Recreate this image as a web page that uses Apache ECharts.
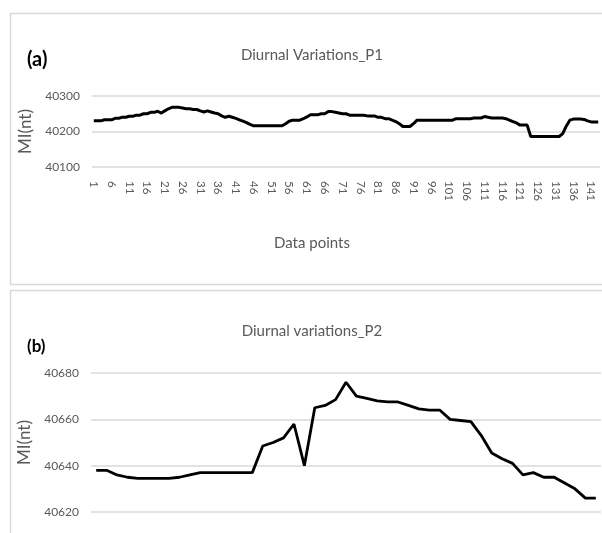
<!DOCTYPE html>
<html>
<head>
<meta charset="utf-8">
<script src="https://cdn.jsdelivr.net/npm/echarts@6/dist/echarts.min.js"></script>
<style>
  html, body { margin: 0; padding: 0; background: #ffffff; }
  #chart { width: 602px; height: 533px; }
</style>
</head>
<body>
<div id="chart"></div>
<script>
// Panel (a): magnetic intensity at site P1, one reading per data point
const p1Values = [
  40230, 40230, 40230, 40233, 40233, 40233, 40237, 40237, 40240, 40240,
  40243, 40243, 40246, 40246, 40250, 40250, 40254, 40254, 40257, 40252,
  40258, 40264, 40268, 40268, 40268, 40266, 40264, 40264, 40262, 40262,
  40258, 40255, 40258, 40255, 40252, 40250, 40244, 40240, 40243, 40240,
  40237, 40233, 40229, 40225, 40220, 40216, 40216, 40216, 40216, 40216,
  40216, 40216, 40216, 40216, 40222, 40229, 40232, 40232, 40232, 40236,
  40241, 40247, 40247, 40247, 40250, 40250, 40256, 40256, 40254, 40252,
  40250, 40250, 40246, 40246, 40246, 40246, 40246, 40244, 40244, 40244,
  40240, 40240, 40236, 40236, 40232, 40228, 40222, 40214, 40214, 40214,
  40222, 40232, 40232, 40232, 40232, 40232, 40232, 40232, 40232, 40232,
  40232, 40232, 40236, 40236, 40236, 40236, 40236, 40238, 40238, 40238,
  40242, 40240, 40238, 40238, 40238, 40238, 40236, 40232, 40228, 40224,
  40218, 40218, 40218, 40186, 40186, 40186, 40186, 40186, 40186, 40186,
  40186, 40186, 40194, 40215, 40232, 40235, 40235, 40235, 40234, 40230,
  40227, 40227, 40227
];
const p1Categories = p1Values.map((_, i) => String(i + 1));
const p1Ticks = [40100, 40200, 40300];

// Panel (b): magnetic intensity at site P2
const p2Values = [
  40638, 40638, 40636, 40635, 40634.5, 40634.5, 40634.5, 40634.5, 40635, 40636,
  40637, 40637, 40637, 40637, 40637, 40637, 40648.5, 40650, 40652, 40658,
  40640, 40665, 40666, 40668.5, 40676, 40670, 40669, 40668, 40667.5, 40667.5,
  40666, 40664.5, 40664, 40664, 40660, 40659.5, 40659, 40653, 40645.5, 40643,
  40641, 40636, 40637, 40635, 40635, 40632.5, 40630, 40626, 40626
];
const p2Categories = p2Values.map((_, i) => String(i + 1));
const p2Ticks = [40620, 40640, 40660, 40680];

const FONT = 'Lato, "Open Sans", sans-serif';
const GREY = '#595959';
const GRID_LINE = '#d9d9d9';

const chart = echarts.init(document.getElementById('chart'), null, { renderer: 'canvas' });

function valueAxis(gridIndex, ticks, gap) {
  return {
    type: 'value',
    gridIndex: gridIndex,
    min: ticks[0],
    max: ticks[ticks.length - 1],
    interval: ticks[1] - ticks[0],
    name: 'MI(nt)',
    nameLocation: 'middle',
    nameRotate: 90,
    nameGap: gap,
    nameTextStyle: { color: GREY, fontSize: 17, fontFamily: FONT },
    axisLine: { show: false },
    axisTick: { show: false },
    axisLabel: {
      color: GREY, fontSize: 12, fontFamily: FONT, margin: 12,
      formatter: (v) => String(v)
    },
    splitLine: { show: true, lineStyle: { color: GRID_LINE, width: 1.5 } }
  };
}

chart.setOption({
  animation: false,
  backgroundColor: '#ffffff',
  grid: [
    { left: 92, top: 96, width: 508, height: 71 },
    { left: 91, top: 373, width: 510, height: 139 }
  ],
  xAxis: [
    {
      type: 'category',
      gridIndex: 0,
      data: p1Categories,
      boundaryGap: true,
      axisLine: { show: false },
      axisTick: { show: false },
      axisLabel: {
        interval: 4,
        rotate: -90,
        margin: 14,
        color: GREY,
        fontSize: 11.5,
        fontFamily: FONT
      }
    },
    {
      type: 'category',
      gridIndex: 1,
      data: p2Categories,
      boundaryGap: true,
      axisLine: { show: false },
      axisTick: { show: false },
      axisLabel: { show: false }
    }
  ],
  yAxis: [
    valueAxis(0, p1Ticks, 52),
    valueAxis(1, p2Ticks, 52)
  ],
  series: [
    {
      type: 'line',
      xAxisIndex: 0,
      yAxisIndex: 0,
      data: p1Values,
      showSymbol: false,
      lineStyle: { color: '#000000', width: 3 },
      itemStyle: { color: '#000000' }
    },
    {
      type: 'line',
      xAxisIndex: 1,
      yAxisIndex: 1,
      data: p2Values,
      showSymbol: false,
      lineStyle: { color: '#000000', width: 2.8 },
      itemStyle: { color: '#000000' }
    }
  ],
  graphic: [
    // panel frames
    {
      type: 'rect', z: -1, silent: true,
      shape: { x: 10.5, y: 13.5, width: 620, height: 271 },
      style: { fill: '#ffffff', stroke: GRID_LINE, lineWidth: 1.5 }
    },
    {
      type: 'rect', z: -1, silent: true,
      shape: { x: 10.5, y: 290.5, width: 620, height: 300 },
      style: { fill: '#ffffff', stroke: GRID_LINE, lineWidth: 1.5 }
    },
    // titles and panel letters
    {
      type: 'text', silent: true,
      style: {
        text: 'Diurnal Variations_P1', x: 312, y: 55,
        textAlign: 'center', textVerticalAlign: 'middle',
        fill: GREY, font: '15px ' + FONT
      }
    },
    {
      type: 'text', silent: true,
      style: {
        text: '(a)', x: 27, y: 60,
        textAlign: 'left', textVerticalAlign: 'middle',
        fill: '#000000', font: 'bold 20px ' + FONT
      }
    },
    {
      type: 'text', silent: true,
      style: {
        text: 'Data points', x: 312, y: 243,
        textAlign: 'center', textVerticalAlign: 'middle',
        fill: GREY, font: '15px ' + FONT
      }
    },
    {
      type: 'text', silent: true,
      style: {
        text: 'Diurnal variations_P2', x: 312, y: 331,
        textAlign: 'center', textVerticalAlign: 'middle',
        fill: GREY, font: '15px ' + FONT
      }
    },
    {
      type: 'text', silent: true,
      style: {
        text: '(b)', x: 27, y: 347,
        textAlign: 'left', textVerticalAlign: 'middle',
        fill: '#000000', font: 'bold 17px ' + FONT
      }
    }
  ]
});
</script>
</body>
</html>
